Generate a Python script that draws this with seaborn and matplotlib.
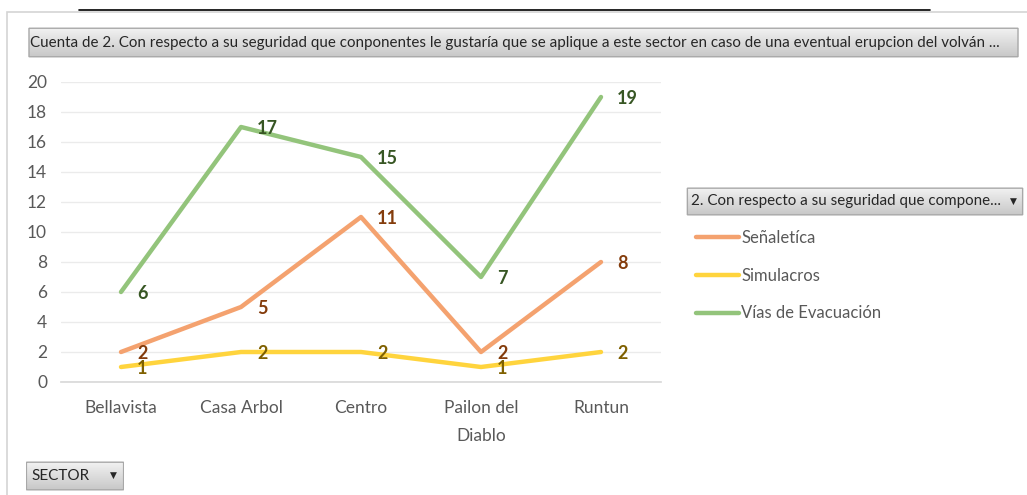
import numpy as np
import pandas as pd
import matplotlib
matplotlib.use('Agg')
import matplotlib.pyplot as plt
import seaborn as sns
from matplotlib.patches import FancyBboxPatch, Rectangle
from matplotlib.lines import Line2D

# data
sectors = ['Bellavista', 'Casa Arbol', 'Centro', 'Pailon del\nDiablo', 'Runtun']
senaletica = [2, 5, 11, 2, 8]
simulacros = [1, 2, 2, 1, 2]
vias = [6, 17, 15, 7, 19]
series_names = ['Señaletíca', 'Simulacros', 'Vías de Evacuación']
line_colors = ['#F4A26F', '#FFD43D', '#93C47B']
label_colors = ['#843C0C', '#7F6000', '#375623']

title_txt = ('Cuenta de 2. Con respecto a su seguridad que conponentes le gustaría que se aplique '
             'a este sector en caso de una eventual erupcion del volván ...')
legend_title = '2. Con respecto a su seguridad que compone...'

W, H = 1027, 495

sns.set_theme(style='white')
plt.rcParams['font.family'] = ['Lato', 'DejaVu Sans']

df = pd.DataFrame({
    'sector': sectors * 3,
    'valor': senaletica + simulacros + vias,
    'serie': [s for s in series_names for _ in sectors],
})

fig = plt.figure(figsize=(W / 100, H / 100), dpi=100)
fig.patch.set_facecolor('white')


def fx(x):
    return x / W


def fy(y):
    return 1 - y / H


# outer frame and top rule
fig.add_artist(Rectangle((fx(7), fy(500)), fx(1040) - fx(7), fy(12) - fy(500),
                         transform=fig.transFigure, fill=False, ec='#D4D4D4', lw=1.2))
fig.add_artist(Line2D([fx(79), fx(930)], [fy(10), fy(10)], transform=fig.transFigure,
                      color='black', lw=1.2))


def button(x0, y0, x1, y1, text, size=11, arrow=True):
    bax = fig.add_axes([fx(x0), fy(y1), fx(x1) - fx(x0), fy(y0) - fy(y1)])
    bax.set_axis_off()
    bax.set_xlim(0, 1)
    bax.set_ylim(0, 1)
    grad = np.linspace(0, 1, 64).reshape(-1, 1)
    cmap = matplotlib.colors.LinearSegmentedColormap.from_list('g', ['#F3F3F3', '#C6C6C6'])
    im = bax.imshow(grad, extent=[0, 1, 0, 1], aspect='auto', cmap=cmap, origin='upper')
    box = FancyBboxPatch((0.004, 0.04), 0.992, 0.92, boxstyle='round,pad=0,rounding_size=0.02',
                         fc='none', ec='#A8A8A8', lw=1, transform=bax.transAxes,
                         mutation_aspect=(y1 - y0) / (x1 - x0))
    bax.add_patch(box)
    im.set_clip_path(box)
    pad = 5 / (x1 - x0)
    bax.text(pad, 0.5, text, ha='left', va='center', fontsize=size, color='#262626')
    if arrow:
        bax.text(1 - 11 / (x1 - x0), 0.52, '▼', ha='center', va='center', fontsize=6.5,
                 color='#262626', family='DejaVu Sans')


button(25, 27, 1022, 58, title_txt, size=10.9, arrow=False)
button(686, 187, 1024, 216, legend_title, size=10.9)
button(26, 461, 124, 491, 'SECTOR', size=11)

ax = fig.add_axes([fx(61), fy(382), fx(661) - fx(61), fy(82) - fy(382)])
sns.lineplot(data=df, x='sector', y='valor', hue='serie', palette=line_colors,
             sort=False, lw=3.2, ax=ax, legend=False)

for vals, c in zip([senaletica, simulacros, vias], label_colors):
    for i, v in enumerate(vals):
        ax.annotate(str(v), (i, v), xytext=(11.5, -1), textcoords='offset points',
                    ha='left', va='center', fontsize=13, fontweight='bold', color=c)

ax.set_xlim(-0.5, len(sectors) - 0.5)
ax.set_ylim(0, 20)
ax.set_yticks(range(0, 21, 2))
ax.grid(axis='y', color='#EBEBEB', lw=1)
ax.set_axisbelow(True)
for s in ['top', 'right', 'left']:
    ax.spines[s].set_visible(False)
ax.spines['bottom'].set_color('#D9D9D9')
ax.set_xlabel('')
ax.set_ylabel('')
ax.set_xticks(range(len(sectors)))
ax.set_xticklabels(sectors, linespacing=1.95, va='top')
ax.set_xticks(np.arange(-0.5, len(sectors)), minor=True)
ax.tick_params(axis='x', which='major', length=0, pad=13, labelsize=12.5, labelcolor='#595959')
ax.tick_params(axis='x', which='minor', length=5, width=1, color='#D9D9D9', direction='out')
ax.tick_params(axis='y', length=0, pad=10, labelsize=12.5, labelcolor='#595959')
ax.set_facecolor('none')

handles = [Line2D([], [], color=c, lw=3.2) for c in line_colors]
fig.legend(handles, series_names, loc='upper left', bbox_to_anchor=(fx(681), fy(215)),
           frameon=False, fontsize=12, handlelength=2.55, handletextpad=0.15,
           labelspacing=1.3, labelcolor='#595959')

fig.savefig('out.png', dpi=100)
